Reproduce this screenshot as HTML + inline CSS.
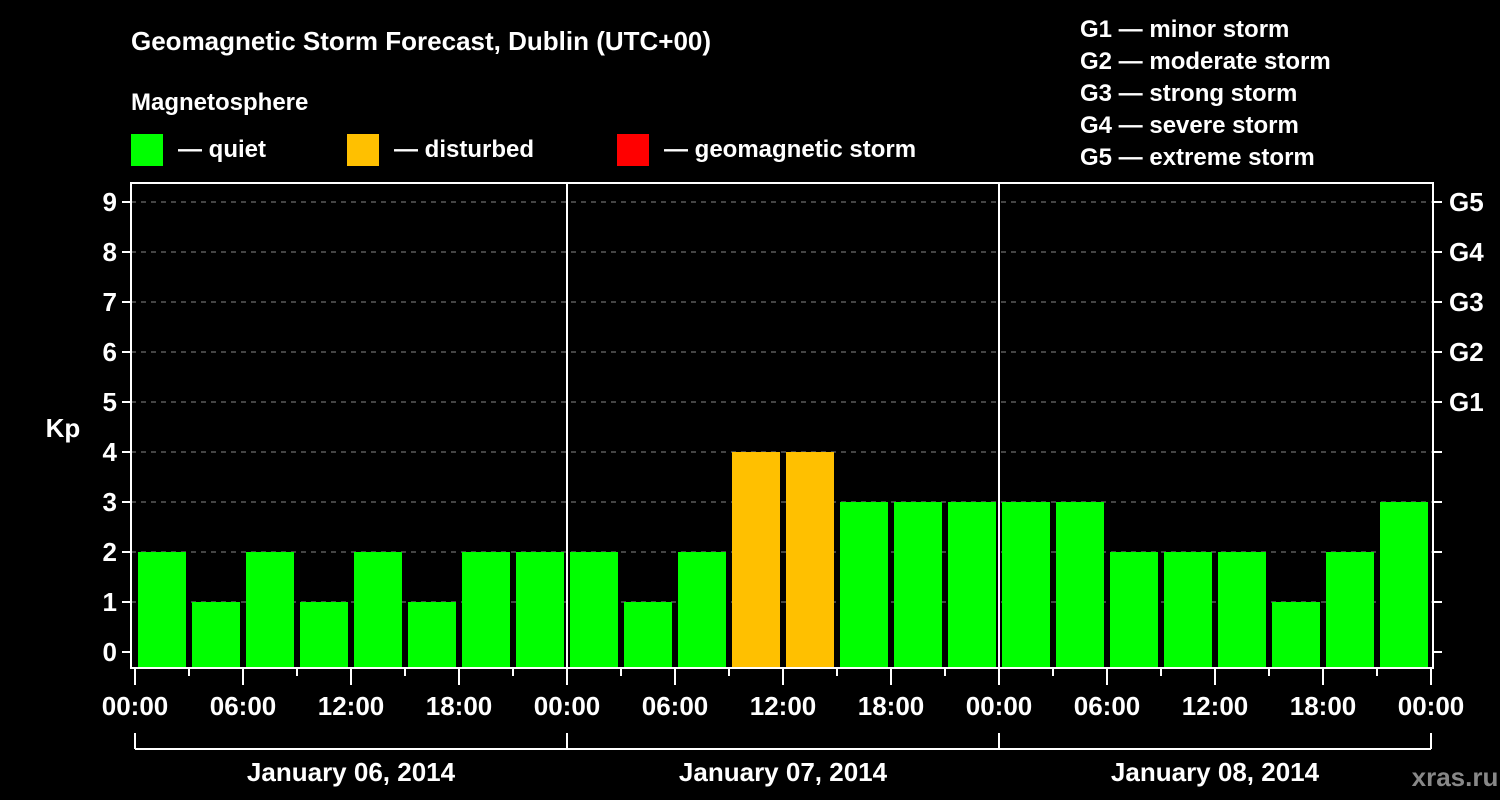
<!DOCTYPE html>
<html><head><meta charset="utf-8"><style>
body{margin:0;background:#000;width:1500px;height:800px;overflow:hidden}
svg{display:block;font-family:"Liberation Sans",Arial,sans-serif;font-weight:bold}
</style></head><body>
<svg id="c" width="1500" height="800">
<text x="131" y="50" fill="#fff" font-size="26">Geomagnetic Storm Forecast, Dublin (UTC+00)</text>
<text x="131" y="110" fill="#fff" font-size="24">Magnetosphere</text>
<g><rect x="131" y="134" width="32" height="32" fill="#00ff00"/><text x="178" y="157" fill="#fff" font-size="24">— quiet</text></g>
<g><rect x="347" y="134" width="32" height="32" fill="#ffc000"/><text x="394" y="157" fill="#fff" font-size="24">— disturbed</text></g>
<g><rect x="617" y="134" width="32" height="32" fill="#ff0000"/><text x="664" y="157" fill="#fff" font-size="24">— geomagnetic storm</text></g>
<g fill="#fff" font-size="24">
<text x="1080" y="37">G1 — minor storm</text>
<text x="1080" y="69">G2 — moderate storm</text>
<text x="1080" y="101">G3 — strong storm</text>
<text x="1080" y="133">G4 — severe storm</text>
<text x="1080" y="165">G5 — extreme storm</text>
</g>
<text x="63" y="437" fill="#fff" font-size="26" text-anchor="middle">Kp</text>
<text x="1455" y="786" fill="#888" font-size="26" text-anchor="middle">xras.ru</text>
<g id="plot"></g>
</svg>
<script>
const kp=[2,1,2,1,2,1,2,2, 2,1,2,4,4,3,3,3, 3,3,2,2,2,1,2,3];
const yTicks=[0,1,2,3,4,5,6,7,8,9];
const gLabels=["G1","G2","G3","G4","G5"];
const gLevels=[5,6,7,8,9];
const timeLabels=["00:00","06:00","12:00","18:00","00:00","06:00","12:00","18:00","00:00","06:00","12:00","18:00","00:00"];
const dayLabels=["January 06, 2014","January 07, 2014","January 08, 2014"];

const NS="http://www.w3.org/2000/svg",g=document.getElementById('plot');
const x0=135,slot=54,L=131,R=1433,T=183,B=668;
const X=i=>x0+i*slot; const Y=v=>652-v*50;
function el(t,a,txt){const e=document.createElementNS(NS,t);for(const k in a)e.setAttribute(k,a[k]);if(txt!=null)e.textContent=txt;g.appendChild(e);return e;}
yTicks.forEach(v=>{
 if(v>0){const d=el('line',{x1:L,x2:R,y1:Y(v),y2:Y(v),stroke:'#888','stroke-dasharray':'5,5','stroke-width':1});
 
 }
 el('line',{x1:122,x2:L,y1:Y(v),y2:Y(v),stroke:'#fff','stroke-width':2});
 el('line',{x1:R,x2:R+9,y1:Y(v),y2:Y(v),stroke:'#fff','stroke-width':2});
 const t=el('text',{x:117,y:Y(v)+9,fill:'#fff','font-size':26,'text-anchor':'end'},v);
 
 
});
gLabels.forEach((s,i)=>{const t=el('text',{x:1449,y:Y(gLevels[i])+9,fill:'#fff','font-size':26},s);
 
 });
kp.forEach((v,i)=>{
 const c=v>=5?'#ff0000':v>=4?'#ffc000':'#00ff00';
 const r=el('rect',{x:X(i)+3,y:Y(v),width:48,height:B-Y(v),fill:c});
 
 
});
for(let d=1;d<3;d++)el('line',{x1:X(d*8),x2:X(d*8),y1:T,y2:B,stroke:'#fff','stroke-width':2});
const f=el('rect',{x:L,y:T,width:R-L,height:B-T,fill:'none',stroke:'#fff','stroke-width':2});


for(let i=0;i<=24;i++){
 el('line',{x1:X(i),x2:X(i),y1:B,y2:i%2?676:685,stroke:'#fff','stroke-width':2});
}
timeLabels.forEach((s,j)=>{const t=el('text',{x:X(j*2),y:715,fill:'#fff','font-size':26,'text-anchor':'middle'},s);
 
 });
el('line',{x1:X(0),x2:X(24),y1:749,y2:749,stroke:'#fff','stroke-width':2});
for(let d=0;d<=3;d++)el('line',{x1:X(d*8),x2:X(d*8),y1:733,y2:749,stroke:'#fff','stroke-width':2});
dayLabels.forEach((s,d)=>{const t=el('text',{x:X(d*8+4),y:781,fill:'#fff','font-size':26,'text-anchor':'middle'},s);
 
 });
</script>
</body></html>
